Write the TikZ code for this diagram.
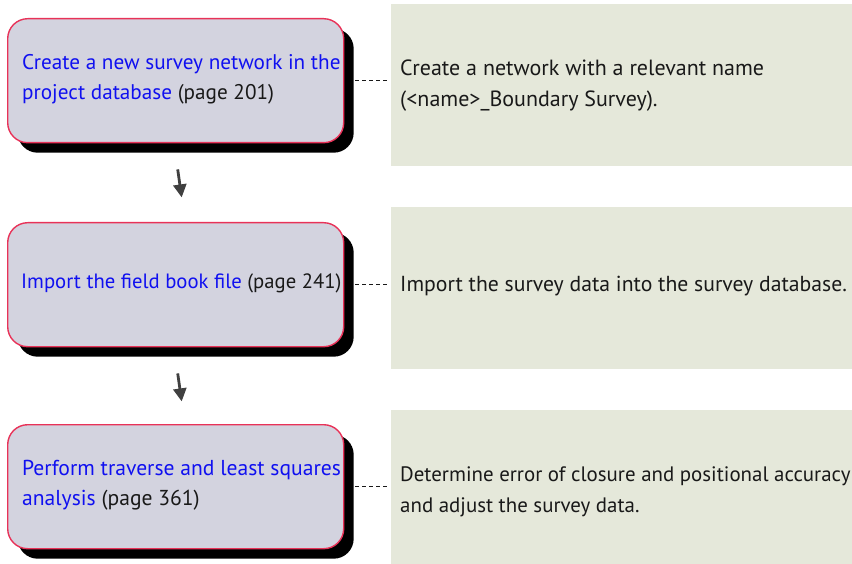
\documentclass[tikz,border=0pt]{standalone}
\usepackage{fontspec}
\setmainfont{PT Sans}
\usetikzlibrary{shadows,calc,arrows.meta}
\definecolor{boxfill}{RGB}{211,211,223}
\definecolor{boxedge}{RGB}{232,50,88}
\definecolor{panelfill}{RGB}{229,232,218}
\definecolor{linkblue}{RGB}{16,16,240}
\definecolor{txt}{RGB}{25,25,25}
\definecolor{arrowgray}{RGB}{64,64,64}
\tikzset{
  stepbox/.style={draw=boxedge, line width=1.4pt, fill=boxfill, rounded corners=20pt,
    minimum width=336pt, minimum height=124pt, anchor=north west, inner sep=0pt,
    drop shadow={shadow xshift=10pt, shadow yshift=-10pt, fill=black, opacity=1}},
  boxtext/.style={anchor=west, align=left, inner sep=0pt, text=txt,
    font=\fontsize{21.2pt}{30.5pt}\selectfont},
  panel/.style={fill=panelfill, draw=none, minimum width=461pt, anchor=north west, inner sep=0pt},
  paneltext/.style={anchor=west, align=left, inner sep=0pt, text=txt,
    font=\fontsize{22pt}{31pt}\selectfont},
  flowarrow/.style={draw=arrowgray, line width=2.8pt, -{Triangle[length=13pt,width=13pt]}},
  link/.style={draw=txt, line width=1.3pt, dash pattern=on 4pt off 3pt}
}
\begin{document}
\begin{tikzpicture}[x=1pt,y=-1pt]
\useasboundingbox (0,0) rectangle (852,564);
% panels
\node[panel, minimum height=162pt] (p1) at (391,4) {};
\node[panel, minimum height=162pt] (p2) at (391,207) {};
\node[panel, minimum height=160pt] (p3) at (391,410) {};
\node[paneltext] (p1t) at ($(p1.west)+(9,0)$) {Create a network with a relevant name\\(<name>\_Boundary Survey).};
\node[paneltext, font=\fontsize{21.7pt}{31pt}\selectfont] (p2t) at ($(p2.west)+(9,-2)$) {Import the survey data into the survey database.};
\node[paneltext, font=\fontsize{20.9pt}{31pt}\selectfont] (p3t) at ($(p3.west)+(9,2)$) {Determine error of closure and positional accuracy\\and adjust the survey data.};
% step boxes
\node[stepbox] (b1) at (7,18) {};
\node[stepbox] (b2) at (7,222) {};
\node[stepbox] (b3) at (7,424) {};
\node[boxtext] (b1t) at ($(b1.west)+(15,-1.5)$) {\textcolor{linkblue}{Create a new survey network in the}\\\textcolor{linkblue}{project database} (page 201)};
\node[boxtext, font=\fontsize{20.7pt}{30pt}\selectfont] (b2t) at ($(b2.west)+(14,-1)$) {\textcolor{linkblue}{Import the field book file} (page 241)};
\node[boxtext, font=\fontsize{21.6pt}{30pt}\selectfont] (b3t) at ($(b3.west)+(15,-1)$) {\textcolor{linkblue}{Perform traverse and least squares}\\\textcolor{linkblue}{analysis} (page 361)};
% dashed links
\draw[link] ($(b1.east)+(11,0)$) -- ($(b1.east -| p1.west)+(-3,0)$);
\draw[link] ($(b2.east)+(11,0)$) -- ($(b2.east -| p2.west)+(-3,0)$);
\draw[link] ($(b3.east)+(11,0)$) -- ($(b3.east -| p3.west)+(-3,0)$);
% arrows
\draw[flowarrow] ($(b1.south)+(2,26)$) -- ($(b1.south)+(6,54)$);
\draw[flowarrow] ($(b2.south)+(2,26)$) -- ($(b2.south)+(6,54)$);
\end{tikzpicture}
\end{document}
